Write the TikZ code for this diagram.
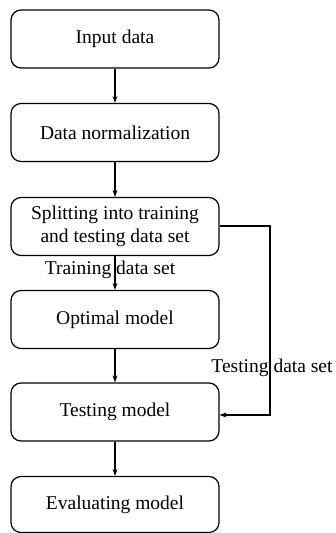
\documentclass[tikz,border=0pt]{standalone}
\usepackage{fontspec}
\setmainfont{Liberation Serif}
\usetikzlibrary{arrows.meta}
\begin{document}
\begin{tikzpicture}[x=1pt,y=1pt,
  box/.style={draw,line width=1.2pt,rounded corners=10pt,minimum width=208pt,minimum height=58pt,align=center,font=\fontsize{19.5}{23}\selectfont,inner sep=0pt},
  lbl/.style={font=\fontsize{19.5}{23}\selectfont,inner sep=0pt},
  conn/.style={line width=1.3pt,-{Stealth[length=7pt,width=5pt]}}]
\useasboundingbox (0,0) rectangle (336,-533);
\node[box] (in) at (115,-39) {Input data};
\node[box] (norm) at (115,-132.5) {Data normalization};
\node[box] (split) at (115,-226.5) {Splitting into training\\and testing data set};
\node[box] (opt) at (115,-319.5) {Optimal model};
\node[box] (test) at (115,-412) {Testing model};
\node[box,minimum height=56pt] (eval) at (115,-504.5) {Evaluating model};
\coordinate (c1) at (270,-226);
\coordinate (c2) at (270,-415);
\draw[conn] (in) -- (norm);
\draw[conn] (norm) -- (split);
\draw[conn] (split) -- (opt);
\draw[conn] (opt) -- (test);
\draw[conn] (test) -- (eval);
\draw[conn] (split.east |- c1) -- (c1) -- (c2) -- (test.east |- c2);
\node[lbl] (tr) at (110,-270) {Training data set};
\node[lbl] (ts) at (272,-368) {Testing data set};
\end{tikzpicture}
\end{document}
